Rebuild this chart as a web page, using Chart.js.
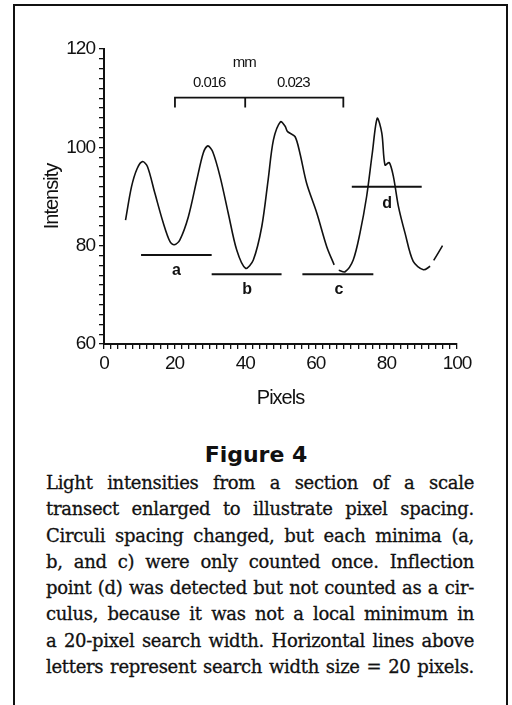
<!DOCTYPE html>
<html>
<head>
<meta charset="utf-8">
<script src="https://cdn.jsdelivr.net/npm/chart.js@4/dist/chart.umd.min.js"></script>
<style>
body { margin: 0; background: #fff; width: 512px; height: 705px; overflow: hidden; position: relative; }
#frame { position: absolute; left: 13px; top: 4px; width: 491px; height: 720px; border: 2px solid #111; border-bottom: none; }
#myChart { position: absolute; left: 0; top: 0; }
#figTitle { position: absolute; left: 0; width: 512px; top: 442px; text-align: center; font: bold 22px 'DejaVu Sans'; line-height: 26px; color: #111; }
#caption { position: absolute; left: 46px; width: 428px; top: 470px; font: 18px 'DejaVu Serif'; line-height: 26.3px; color: #111; -webkit-text-stroke: 0.3px #111; letter-spacing: -0.3px; word-spacing: -3px; }
#caption div { text-align: justify; text-align-last: justify; white-space: nowrap; }
</style>
</head>
<body>
<div id="frame"></div>
<canvas id="myChart" width="512" height="420"></canvas>
<div id="figTitle">Figure 4</div>
<div id="caption"></div>
<script>
// intensity trace (null = break in the printed line)
const curveX = [6.1, 7.8, 9.4, 10.9, 12.3, 14.4, 16.8, 18.7, 19.9, 21.5, 23.9, 26.3, 28.1, 29.4, 30.8, 32.9, 35.2, 37.6, 40.1, 42.3, 44.7, 46.5, 48.0, 50.0, 51.3, 52.0, 54.1, 55.5, 57.4, 60.3, 63.1, 65.2, 65.8, 66.5, 68.3, 70.6, 72.5, 74.4, 76.0, 77.4, 78.7, 79.6, 80.8, 82.0, 83.4, 85.3, 87.6, 90.5, 92.4, 92.9, 93.4, 95.9]
const curveY = [85.2, 92.0, 95.7, 97.1, 96.1, 90.7, 84.6, 80.8, 80.2, 81.2, 85.9, 93.4, 98.8, 100.3, 99.1, 94.0, 86.6, 79.1, 75.4, 77.1, 83.9, 93.4, 101.5, 105.2, 104.3, 103.2, 102.2, 98.8, 92.7, 86.6, 79.8, 76.1, null, 75.0, 74.7, 77.1, 82.5, 90.0, 98.8, 105.9, 102.9, 96.4, 96.9, 94.0, 88.0, 82.5, 76.8, 75.1, 75.8, null, 77.0, 80.0]

// 20-pixel search widths and their letters
const searchLetters = ['a', 'b', 'c', 'd']
const searchStart = [10.5, 30.5, 56.2, 70.2]
const searchEnd = [30.5, 50.3, 76.3, 90.0]
const searchLevel = [78.1, 74.2, 74.2, 92.0]
const letterX = [20.4, 40.4, 66.4, 80.1]
const letterY = [75.0, 71.0, 71.0, 88.6]

// spacing bracket (mm)
const bracketX = [20.1, 40.0, 67.8]
const bracketTop = 110.1
const bracketBottom = 108.1
const spacingLabels = ['0.016', '0.023']
const spacingLabelX = [29.8, 53.6]
const spacingLabelY = 113.2
const unitLabel = 'mm'
const unitLabelX = 39.7
const unitLabelY = 117.2

// axes
const xTicks = [0, 20, 40, 60, 80, 100]
const yTicks = [60, 80, 100, 120]

const captionLines = [
    'Light intensities from a section of a scale',
    'transect enlarged to illustrate pixel spacing.',
    'Circuli spacing changed, but each minima (a,',
    'b, and c) were only counted once. Inflection',
    'point (d) was detected but not counted as a cir-',
    'culus, because it was not a local minimum in',
    'a 20-pixel search width. Horizontal lines above',
    'letters represent search width size = 20 pixels.'
]

document.querySelector('#caption').innerHTML = captionLines.map((line) => '<div>' + line + '</div>').join('')

const ink = '#111'
const tickFont = { family: 'Liberation Sans', size: 19 }

//build datasets
const curveData = curveX.map((x, i) => ({ x: x, y: curveY[i] }))
const datasets = [{
    data: curveData,
    borderColor: ink,
    borderWidth: 1.6,
    pointRadius: 0,
    tension: 0.3,
    spanGaps: false
}]
searchLetters.forEach((letter, i) => {
    datasets.push({
        data: [{ x: searchStart[i], y: searchLevel[i] }, { x: searchEnd[i], y: searchLevel[i] }],
        borderColor: ink,
        borderWidth: 2,
        pointRadius: 0
    })
})
datasets.push({
    data: [
        { x: bracketX[0], y: bracketBottom }, { x: bracketX[0], y: bracketTop },
        { x: bracketX[2], y: bracketTop }, { x: bracketX[2], y: bracketBottom }
    ],
    borderColor: ink,
    borderWidth: 1.8,
    pointRadius: 0
})
datasets.push({
    data: [{ x: bracketX[1], y: bracketTop }, { x: bracketX[1], y: bracketBottom }],
    borderColor: ink,
    borderWidth: 1.8,
    pointRadius: 0
})

const annotationText = {
    id: 'annotationText',
    beforeDraw(chart) {
        chart.ctx.letterSpacing = '-1px'
    },
    afterDatasetsDraw(chart) {
        const { ctx, scales: { x, y } } = chart
        ctx.save()
        ctx.fillStyle = ink
        ctx.textAlign = 'center'
        ctx.textBaseline = 'middle'
        ctx.font = 'bold 16px "Liberation Sans"'
        searchLetters.forEach((letter, i) => {
            ctx.fillText(letter, x.getPixelForValue(letterX[i]), y.getPixelForValue(letterY[i]))
        })
        ctx.font = '15px "Liberation Sans"'
        spacingLabels.forEach((label, i) => {
            ctx.fillText(label, x.getPixelForValue(spacingLabelX[i]), y.getPixelForValue(spacingLabelY))
        })
        ctx.fillText(unitLabel, x.getPixelForValue(unitLabelX), y.getPixelForValue(unitLabelY))
        ctx.restore()
    }
}

const config = {
    type: 'line',
    data: { datasets: datasets },
    options: {
        responsive: false,
        animation: false,
        layout: { padding: { top: 49, right: 55, left: 0, bottom: 0 } },
        plugins: { legend: { display: false }, tooltip: { enabled: false } },
        scales: {
            x: {
                type: 'linear',
                min: 0,
                max: 100,
                afterFit: (scale) => { scale.height = 76 },
                border: { display: true, color: ink, width: 2 },
                grid: { drawOnChartArea: false, drawTicks: true, tickLength: 5, color: ink, lineWidth: 1.3 },
                ticks: {
                    stepSize: 2,
                    autoSkip: false,
                    maxRotation: 0,
                    padding: 3,
                    color: ink,
                    font: tickFont,
                    callback: (value) => xTicks.includes(value) ? String(value) : ''
                },
                title: { display: true, text: 'Pixels', color: ink, font: { family: 'Liberation Sans', size: 20 }, padding: { top: 0, bottom: 10 } }
            },
            y: {
                min: 60,
                max: 120,
                afterFit: (scale) => { scale.width = 104 },
                border: { display: true, color: ink, width: 2 },
                grid: { drawOnChartArea: false, drawTicks: true, tickLength: 5, color: ink, lineWidth: 1.3 },
                ticks: {
                    stepSize: 2,
                    autoSkip: false,
                    padding: 4,
                    color: ink,
                    font: tickFont,
                    callback: (value) => yTicks.includes(value) ? String(value) : ''
                },
                title: { display: true, text: 'Intensity', color: ink, font: { family: 'Liberation Sans', size: 20 }, padding: { top: 40, bottom: 0 } }
            }
        }
    },
    plugins: [annotationText]
}

document.addEventListener('DOMContentLoaded', (event) => {
    const chart = new Chart(document.querySelector('#myChart'), config)
})
</script>
</body>
</html>
